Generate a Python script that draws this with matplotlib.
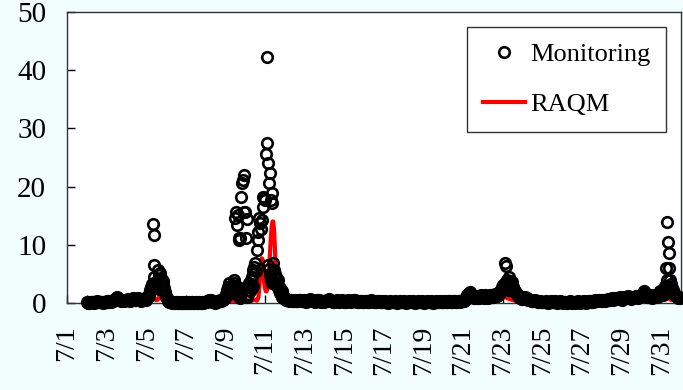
import numpy as np
import matplotlib.pyplot as plt
from matplotlib.lines import Line2D

plt.rcParams['font.family'] = ['Liberation Serif', 'DejaVu Serif']

# hourly values, one row per day, starting 7/2 00:00
monitoring = [
    [0.1, 0.1, 0.0, 0.0, 0.1, 0.1, 0.2, 0.1, 0.1, 0.0, 0.1, 0.2, 0.2, 0.3, 0.2, 0.1, 0.1, 0.2, 0.1, 0.1, 0.0, 0.1, 0.2, 0.2],  # 7/2
    [0.2, 0.3, 0.2, 0.3, 0.4, 0.3, 0.2, 0.3, 0.4, 0.5, 0.6, 0.7, 0.9, 1.0, 0.8, 0.6, 0.5, 0.4, 0.5, 0.6, 0.5, 0.4, 0.5, 0.6],  # 7/3
    [0.6, 0.5, 0.7, 0.6, 0.5, 0.4, 0.6, 0.7, 0.8, 0.7, 0.6, 0.5, 0.6, 0.7, 0.8, 0.7, 0.6, 0.5, 0.4, 0.5, 0.6, 0.7, 0.8, 0.7],  # 7/4
    [0.6, 0.8, 1.0, 1.2, 1.5, 2.2, 2.7, 3.3, 13.6, 11.7, 6.5, 3.3, 2.7, 3.1, 5.7, 4.8, 4.0, 5.2, 4.3, 3.6, 3.8, 3.1, 2.6, 1.9],  # 7/5
    [1.2, 0.8, 0.5, 0.3, 0.2, 0.1, 0.1, 0.0, 0.1, 0.1, 0.0, 0.0, 0.1, 0.1, 0.0, 0.0, 0.1, 0.0, 0.0, 0.1, 0.0, 0.0, 0.1, 0.0],  # 7/6
    [0.0, 0.1, 0.0, 0.0, 0.1, 0.0, 0.0, 0.1, 0.1, 0.0, 0.0, 0.1, 0.0, 0.1, 0.0, 0.0, 0.1, 0.1, 0.0, 0.0, 0.1, 0.0, 0.1, 0.1],  # 7/7
    [0.1, 0.2, 0.3, 0.4, 0.5, 0.4, 0.5, 0.3, 0.2, 0.1, 0.2, 0.1, 0.0, 0.1, 0.2, 0.3, 0.4, 0.5, 0.4, 0.3, 0.5, 0.6, 0.8, 0.9],  # 7/8
    [1.0, 1.5, 2.2, 2.7, 3.4, 2.5, 3.0, 2.0, 1.8, 2.5, 3.4, 4.0, 14.6, 15.6, 13.4, 15.2, 11.2, 10.8, 11.2, 18.2, 20.6, 21.1, 22.0, 15.6],  # 7/9
    [15.6, 11.2, 14.4, 2.2, 2.8, 3.4, 3.0, 4.0, 4.5, 5.7, 5.0, 6.2, 6.9, 5.5, 9.1, 10.8, 12.2, 14.6, 13.7, 12.8, 14.3, 18.2, 16.5, 18.0],  # 7/10
    [17.7, 25.6, 27.5, 42.3, 24.1, 20.6, 22.3, 17.7, 18.9, 17.2, 6.9, 5.7, 5.0, 4.5, 4.2, 3.4, 2.8, 2.2, 1.8, 1.5, 1.2, 1.0, 0.9, 0.8],  # 7/11
    [0.8, 0.7, 0.6, 0.6, 0.5, 0.4, 0.5, 0.6, 0.5, 0.4, 0.3, 0.4, 0.5, 0.4, 0.3, 0.3, 0.4, 0.5, 0.6, 0.5, 0.4, 0.3, 0.4, 0.5],  # 7/12
    [0.4, 0.3, 0.2, 0.3, 0.4, 0.5, 0.6, 0.7, 0.6, 0.5, 0.4, 0.3, 0.2, 0.3, 0.4, 0.5, 0.6, 0.5, 0.4, 0.3, 0.2, 0.3, 0.4, 0.3],  # 7/13
    [0.2, 0.3, 0.4, 0.5, 0.6, 0.7, 0.6, 0.5, 0.4, 0.3, 0.2, 0.1, 0.2, 0.3, 0.4, 0.5, 0.4, 0.3, 0.2, 0.3, 0.4, 0.5, 0.4, 0.3],  # 7/14
    [0.2, 0.1, 0.2, 0.3, 0.4, 0.5, 0.4, 0.3, 0.2, 0.3, 0.4, 0.5, 0.6, 0.5, 0.4, 0.3, 0.2, 0.1, 0.2, 0.3, 0.4, 0.3, 0.2, 0.1],  # 7/15
    [0.2, 0.3, 0.4, 0.3, 0.2, 0.1, 0.2, 0.3, 0.4, 0.5, 0.4, 0.3, 0.2, 0.1, 0.1, 0.2, 0.3, 0.4, 0.3, 0.2, 0.1, 0.2, 0.3, 0.2],  # 7/16
    [0.1, 0.2, 0.3, 0.2, 0.1, 0.0, 0.1, 0.2, 0.3, 0.2, 0.1, 0.1, 0.2, 0.3, 0.2, 0.1, 0.0, 0.1, 0.2, 0.3, 0.2, 0.1, 0.1, 0.2],  # 7/17
    [0.3, 0.2, 0.1, 0.0, 0.1, 0.2, 0.3, 0.2, 0.1, 0.1, 0.2, 0.3, 0.2, 0.1, 0.0, 0.1, 0.2, 0.3, 0.2, 0.1, 0.1, 0.2, 0.3, 0.2],  # 7/18
    [0.1, 0.0, 0.1, 0.2, 0.3, 0.2, 0.1, 0.1, 0.2, 0.3, 0.2, 0.1, 0.0, 0.1, 0.2, 0.3, 0.2, 0.1, 0.1, 0.2, 0.3, 0.2, 0.1, 0.1],  # 7/19
    [0.2, 0.3, 0.2, 0.1, 0.1, 0.2, 0.3, 0.4, 0.3, 0.2, 0.1, 0.2, 0.3, 0.4, 0.3, 0.2, 0.2, 0.3, 0.4, 0.3, 0.2, 0.3, 0.4, 0.3],  # 7/20
    [0.3, 0.4, 0.6, 0.8, 1.0, 1.3, 1.5, 1.7, 1.9, 1.6, 1.4, 1.2, 1.0, 0.9, 0.8, 1.0, 1.2, 1.1, 0.9, 0.8, 1.0, 1.2, 1.3, 1.1],  # 7/21
    [1.0, 0.9, 1.1, 1.3, 1.2, 1.0, 0.9, 1.1, 1.2, 1.4, 1.3, 1.1, 1.0, 1.2, 1.4, 1.5, 1.3, 1.2, 1.4, 1.6, 1.8, 2.0, 2.2, 2.7],  # 7/22
    [3.1, 2.9, 3.1, 6.9, 6.4, 4.0, 3.4, 3.0, 4.5, 3.8, 3.2, 3.6, 2.7, 2.5, 2.2, 2.0, 1.8, 1.5, 1.4, 1.2, 1.0, 0.9, 0.8, 0.7],  # 7/23
    [0.7, 0.8, 0.9, 1.0, 0.9, 0.8, 0.7, 0.6, 0.5, 0.6, 0.5, 0.4, 0.4, 0.3, 0.4, 0.5, 0.4, 0.3, 0.3, 0.2, 0.2, 0.3, 0.2, 0.2],  # 7/24
    [0.2, 0.1, 0.1, 0.2, 0.3, 0.2, 0.1, 0.0, 0.1, 0.2, 0.3, 0.2, 0.1, 0.1, 0.2, 0.3, 0.2, 0.1, 0.0, 0.1, 0.2, 0.3, 0.2, 0.1],  # 7/25
    [0.1, 0.0, 0.1, 0.2, 0.1, 0.0, 0.0, 0.1, 0.2, 0.3, 0.2, 0.1, 0.0, 0.1, 0.2, 0.1, 0.0, 0.1, 0.2, 0.3, 0.2, 0.1, 0.0, 0.1],  # 7/26
    [0.1, 0.2, 0.3, 0.2, 0.1, 0.0, 0.1, 0.2, 0.3, 0.4, 0.3, 0.2, 0.1, 0.2, 0.3, 0.4, 0.5, 0.4, 0.3, 0.4, 0.5, 0.6, 0.5, 0.4],  # 7/27
    [0.4, 0.5, 0.6, 0.5, 0.4, 0.5, 0.6, 0.7, 0.6, 0.5, 0.6, 0.7, 0.8, 0.7, 0.6, 0.7, 0.8, 0.9, 0.8, 0.7, 0.8, 0.9, 1.0, 0.9],  # 7/28
    [0.6, 0.8, 0.9, 1.0, 0.9, 0.8, 1.0, 1.1, 1.2, 1.0, 0.9, 0.8, 0.7, 0.8, 0.9, 1.0, 1.1, 1.2, 1.1, 1.0, 0.9, 1.0, 1.1, 1.2],  # 7/29
    [1.3, 1.5, 1.8, 2.0, 1.7, 1.5, 1.2, 1.0, 1.1, 1.2, 1.3, 1.2, 1.0, 0.9, 1.0, 1.1, 1.3, 1.4, 1.2, 1.1, 1.3, 1.5, 1.8, 2.0],  # 7/30
    [1.8, 1.5, 1.3, 1.6, 2.0, 3.0, 6.0, 13.9, 10.5, 8.6, 6.0, 4.0, 3.2, 2.6, 2.2, 1.8, 1.5, 1.3, 1.2, 1.1, 1.0, 0.9, 1.0, 0.8],  # 7/31
]

raqm = [
    [0.1, 0.1, 0.1, 0.1, 0.1, 0.1, 0.2, 0.2, 0.2, 0.2, 0.1, 0.1, 0.1, 0.1, 0.1, 0.1, 0.2, 0.2, 0.2, 0.1, 0.1, 0.1, 0.1, 0.1],  # 7/2
    [0.1, 0.1, 0.2, 0.2, 0.2, 0.3, 0.3, 0.3, 0.2, 0.2, 0.2, 0.2, 0.2, 0.3, 0.3, 0.3, 0.2, 0.2, 0.2, 0.2, 0.2, 0.2, 0.3, 0.3],  # 7/3
    [0.3, 0.3, 0.3, 0.3, 0.2, 0.2, 0.2, 0.3, 0.3, 0.3, 0.3, 0.2, 0.2, 0.2, 0.3, 0.3, 0.4, 0.4, 0.3, 0.3, 0.3, 0.3, 0.4, 0.4],  # 7/4
    [0.4, 0.4, 0.5, 0.6, 0.7, 0.8, 0.9, 1.0, 1.2, 1.0, 0.8, 0.6, 0.5, 0.5, 0.6, 0.8, 1.1, 1.3, 1.0, 0.7, 0.5, 0.4, 0.3, 0.3],  # 7/5
    [0.2, 0.2, 0.1, 0.1, 0.1, 0.1, 0.1, 0.0, 0.0, 0.0, 0.0, 0.0, 0.1, 0.1, 0.1, 0.0, 0.0, 0.0, 0.0, 0.0, 0.0, 0.0, 0.0, 0.0],  # 7/6
    [0.0, 0.0, 0.0, 0.0, 0.0, 0.0, 0.0, 0.0, 0.1, 0.1, 0.1, 0.0, 0.0, 0.0, 0.0, 0.0, 0.0, 0.0, 0.0, 0.0, 0.0, 0.0, 0.0, 0.0],  # 7/7
    [0.0, 0.0, 0.0, 0.1, 0.1, 0.1, 0.1, 0.1, 0.1, 0.0, 0.0, 0.0, 0.0, 0.1, 0.1, 0.1, 0.1, 0.1, 0.1, 0.1, 0.2, 0.2, 0.2, 0.2],  # 7/8
    [0.2, 0.2, 0.3, 0.3, 0.3, 0.3, 0.4, 0.4, 0.4, 0.4, 0.4, 0.4, 0.3, 0.5, 0.6, 0.8, 1.0, 0.9, 0.7, 0.6, 0.5, 0.4, 0.4, 0.5],  # 7/9
    [0.4, 0.3, 0.3, 0.2, 0.2, 0.2, 0.3, 0.3, 0.4, 0.5, 0.5, 0.6, 0.6, 0.5, 0.4, 0.6, 1.0, 2.5, 4.5, 6.5, 7.7, 7.5, 5.5, 3.5],  # 7/10
    [2.5, 2.0, 2.0, 2.5, 3.5, 5.5, 8.5, 11.0, 13.0, 14.0, 14.0, 12.5, 9.5, 6.0, 3.5, 2.0, 1.0, 0.6, 0.4, 0.3, 0.3, 0.2, 0.2, 0.2],  # 7/11
    [0.2, 0.2, 0.2, 0.1, 0.1, 0.1, 0.1, 0.1, 0.1, 0.1, 0.1, 0.1, 0.2, 0.2, 0.2, 0.1, 0.1, 0.1, 0.1, 0.1, 0.1, 0.1, 0.1, 0.1],  # 7/12
    [0.1, 0.1, 0.1, 0.1, 0.2, 0.2, 0.2, 0.2, 0.1, 0.1, 0.1, 0.1, 0.1, 0.1, 0.2, 0.2, 0.2, 0.1, 0.1, 0.1, 0.1, 0.1, 0.1, 0.1],  # 7/13
    [0.1, 0.1, 0.2, 0.2, 0.2, 0.2, 0.2, 0.1, 0.1, 0.1, 0.1, 0.1, 0.1, 0.1, 0.1, 0.2, 0.2, 0.1, 0.1, 0.1, 0.1, 0.2, 0.2, 0.1],  # 7/14
    [0.1, 0.1, 0.1, 0.1, 0.1, 0.2, 0.2, 0.1, 0.1, 0.1, 0.1, 0.1, 0.2, 0.2, 0.1, 0.1, 0.1, 0.1, 0.1, 0.1, 0.1, 0.1, 0.1, 0.1],  # 7/15
    [0.1, 0.1, 0.1, 0.1, 0.1, 0.1, 0.1, 0.1, 0.2, 0.2, 0.1, 0.1, 0.1, 0.1, 0.1, 0.1, 0.1, 0.2, 0.1, 0.1, 0.1, 0.1, 0.1, 0.1],  # 7/16
    [0.1, 0.1, 0.1, 0.1, 0.0, 0.0, 0.0, 0.1, 0.1, 0.1, 0.1, 0.1, 0.1, 0.1, 0.1, 0.0, 0.0, 0.0, 0.1, 0.1, 0.1, 0.1, 0.1, 0.1],  # 7/17
    [0.1, 0.1, 0.0, 0.0, 0.0, 0.1, 0.1, 0.1, 0.1, 0.1, 0.1, 0.1, 0.1, 0.0, 0.0, 0.0, 0.1, 0.1, 0.1, 0.1, 0.1, 0.1, 0.1, 0.1],  # 7/18
    [0.1, 0.0, 0.0, 0.1, 0.1, 0.1, 0.1, 0.1, 0.1, 0.1, 0.1, 0.0, 0.0, 0.0, 0.1, 0.1, 0.1, 0.1, 0.1, 0.1, 0.1, 0.1, 0.1, 0.1],  # 7/19
    [0.1, 0.1, 0.1, 0.1, 0.1, 0.1, 0.2, 0.2, 0.2, 0.1, 0.1, 0.1, 0.2, 0.2, 0.2, 0.1, 0.1, 0.2, 0.2, 0.2, 0.2, 0.2, 0.2, 0.2],  # 7/20
    [0.2, 0.2, 0.3, 0.3, 0.4, 0.4, 0.5, 0.5, 0.4, 0.4, 0.3, 0.3, 0.3, 0.3, 0.3, 0.4, 0.4, 0.4, 0.3, 0.3, 0.3, 0.3, 0.4, 0.4],  # 7/21
    [0.4, 0.4, 0.4, 0.5, 0.5, 0.5, 0.6, 0.6, 0.7, 0.8, 1.0, 1.2, 1.4, 1.1, 0.8, 0.6, 0.5, 0.5, 0.5, 0.6, 0.6, 0.7, 0.7, 0.8],  # 7/22
    [0.8, 0.9, 1.0, 1.1, 1.0, 0.9, 0.8, 0.8, 0.7, 0.7, 0.6, 0.6, 0.5, 0.5, 0.5, 0.4, 0.4, 0.4, 0.3, 0.3, 0.3, 0.3, 0.3, 0.3],  # 7/23
    [0.3, 0.3, 0.3, 0.3, 0.3, 0.2, 0.2, 0.2, 0.2, 0.2, 0.2, 0.2, 0.2, 0.2, 0.2, 0.2, 0.1, 0.1, 0.1, 0.1, 0.1, 0.1, 0.1, 0.1],  # 7/24
    [0.1, 0.1, 0.1, 0.1, 0.1, 0.1, 0.0, 0.0, 0.1, 0.1, 0.1, 0.1, 0.1, 0.1, 0.1, 0.1, 0.1, 0.1, 0.0, 0.0, 0.1, 0.1, 0.1, 0.1],  # 7/25
    [0.1, 0.0, 0.0, 0.1, 0.1, 0.0, 0.0, 0.0, 0.1, 0.1, 0.1, 0.1, 0.0, 0.0, 0.1, 0.1, 0.0, 0.0, 0.1, 0.1, 0.1, 0.1, 0.0, 0.0],  # 7/26
    [0.1, 0.1, 0.1, 0.1, 0.1, 0.1, 0.1, 0.1, 0.2, 0.2, 0.2, 0.2, 0.2, 0.2, 0.3, 0.3, 0.4, 0.5, 0.6, 0.7, 0.8, 0.8, 0.6, 0.5],  # 7/27
    [0.4, 0.4, 0.3, 0.3, 0.3, 0.3, 0.3, 0.3, 0.3, 0.3, 0.3, 0.4, 0.4, 0.4, 0.4, 0.4, 0.4, 0.4, 0.4, 0.4, 0.4, 0.4, 0.5, 0.5],  # 7/28
    [0.5, 0.5, 0.5, 0.5, 0.4, 0.4, 0.4, 0.4, 0.4, 0.4, 0.4, 0.4, 0.4, 0.4, 0.4, 0.5, 0.5, 0.5, 0.5, 0.5, 0.5, 0.5, 0.5, 0.5],  # 7/29
    [0.5, 0.5, 0.6, 0.6, 0.6, 0.6, 0.5, 0.5, 0.5, 0.5, 0.5, 0.5, 0.5, 0.5, 0.5, 0.5, 0.5, 0.5, 0.5, 0.5, 0.6, 0.6, 0.6, 0.6],  # 7/30
    [0.6, 0.6, 0.6, 0.7, 0.7, 0.8, 0.9, 1.0, 0.9, 0.8, 0.7, 0.6, 0.6, 0.5, 0.5, 0.5, 0.5, 0.5, 0.5, 0.4, 0.4, 0.4, 0.4, 0.4],  # 7/31
]

# other monitoring sites reporting during the episodes (hour counted from 7/1 00:00)
extra_hour = [104, 105, 106, 108, 110, 112, 114,
              204, 205, 206, 207, 208, 209, 210,
              218, 220, 222, 224, 226,
              244, 245, 246, 247, 248, 249, 252, 254, 256, 258, 260,
              529, 531, 532, 534, 536,
              726, 727, 728, 730]
extra_value = [3.0, 4.5, 3.5, 2.8, 4.0, 2.4, 3.0,
               3.0, 2.2, 1.5, 2.7, 1.2, 2.0, 0.8,
               1.0, 1.5, 2.0, 2.6, 3.0,
               6.5, 5.8, 4.8, 4.0, 3.5, 5.2, 3.5, 3.0, 4.0, 2.5, 2.0,
               2.7, 3.5, 2.4, 2.9, 2.2,
               2.5, 4.0, 3.0, 2.4]

tick_labels = ["7/1", "", "7/3", "", "7/5", "", "7/7", "", "7/9", "", "7/11", "",
               "7/13", "", "7/15", "", "7/17", "", "7/19", "", "7/21", "", "7/23", "",
               "7/25", "", "7/27", "", "7/29", "", "7/31"]

mon = np.concatenate(monitoring)
mod = np.concatenate(raqm)
t = (24 + np.arange(len(mon))) / 24.0          # days since 7/1 00:00
t_extra = np.array(extra_hour) / 24.0

bg = '#f2fdfd'
fig = plt.figure(figsize=(6.83, 3.90), dpi=100, facecolor=bg)
ax = fig.add_axes([0.098, 0.223, 0.899, 0.746])
ax.set_facecolor('white')

circle = dict(ls='none', marker='o', mfc='none', mec='black', ms=7.6, mew=1.9)
ax.plot(t, mod, color='red', lw=3, zorder=2, clip_on=False)
ax.plot(t, mon, zorder=3, clip_on=False, **circle)
ax.plot(t_extra, extra_value, zorder=3, clip_on=False, **circle)

ax.set_xlim(0, 31)
ax.set_ylim(0, 50)
ax.set_yticks([0, 10, 20, 30, 40, 50])
ax.set_xticks(np.arange(31))
ax.set_xticklabels(tick_labels, rotation=90)
ax.tick_params(axis='y', direction='in', length=6, width=1, pad=15, labelsize=21)
ax.tick_params(axis='x', direction='in', length=6, width=1, pad=16, labelsize=20)
for s in ax.spines.values():
    s.set_color('#333333')
    s.set_linewidth(1.0)

h1 = Line2D([], [], **circle)
h2 = Line2D([], [], color='red', lw=3)
leg = ax.legend([h1, h2], ['Monitoring', 'RAQM'], loc='upper right', fontsize=19,
                fancybox=False, edgecolor='#333333', framealpha=1,
                handlelength=1.6, handletextpad=0.2, labelspacing=1.0,
                borderpad=0.6, borderaxespad=0.55)
leg.get_frame().set_linewidth(1.0)

fig.savefig('out.png', dpi=100, facecolor=bg)
